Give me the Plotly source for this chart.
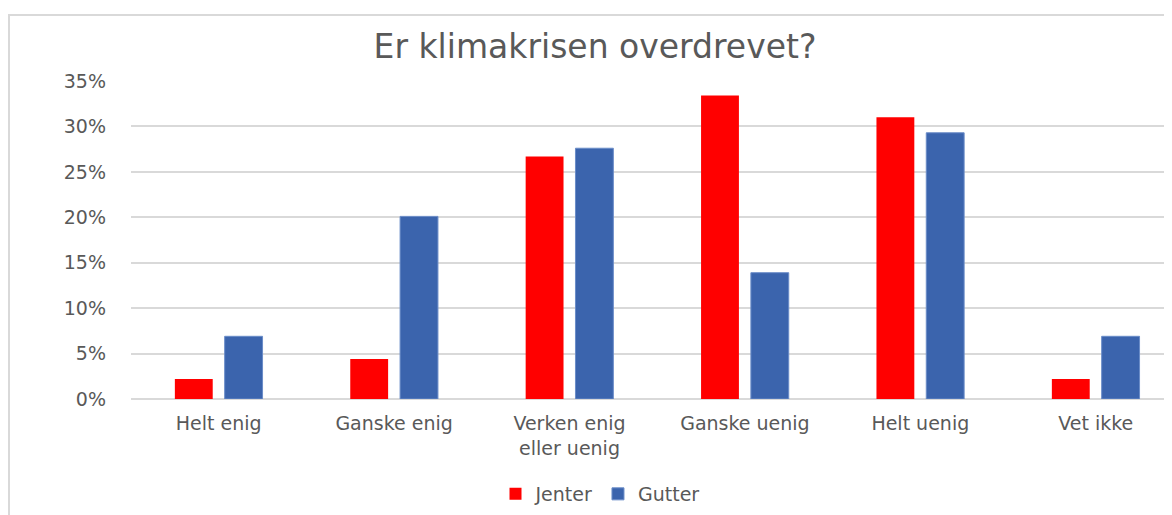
import plotly.graph_objects as go

categories = ["Helt enig", "Ganske enig", "Verken enig<br>eller uenig", "Ganske uenig", "Helt uenig", "Vet ikke"]
jenter = [2.2, 4.4, 26.7, 33.4, 31.0, 2.2]
gutter = [6.9, 20.1, 27.6, 13.9, 29.3, 6.9]
series_names = ["Jenter", "Gutter"]
y_ticks = [0, 5, 10, 15, 20, 25, 30, 35]
y_tick_labels = [f"{v}%" for v in y_ticks]

RED = "#FF0000"
BLUE = "#3B64AD"
GRAY = "#595959"
GRID = "#D9D9D9"
FONT = "DejaVu Sans"

OFF = 8  # page body margin
W, H = 1172 - OFF, 515 - OFF
L, R, T, B = 131 - OFF, 0, 81 - OFF, 515 - 399
plot_w = W - L - R
plot_h = H - T - B

def sx(px):  # screen x -> figure x
    return px - OFF

def sy(py):
    return py - OFF

fig = go.Figure()
fig.add_trace(go.Bar(x=categories, y=jenter, name=series_names[0],
                     marker=dict(color=RED, line=dict(width=0))))
fig.add_trace(go.Bar(x=categories, y=gutter, name=series_names[1],
                     marker=dict(color=BLUE, line=dict(color="#6A8CC8", width=1))))

# chart border (light gray frame), partially cut like the reference
bx0 = (sx(9) - L) / plot_w
by1 = (T + plot_h - sy(15)) / plot_h
fig.add_shape(type="rect", xref="paper", yref="paper",
              x0=bx0, x1=1.2, y0=-0.6, y1=by1,
              line=dict(color="#D9D9D9", width=2), fillcolor="rgba(0,0,0,0)", layer="below")

fig.update_layout(
    width=W, height=H,
    margin=dict(l=L, r=R, t=T, b=B, pad=0),
    paper_bgcolor="white", plot_bgcolor="white",
    barmode="group", bargap=0.432, bargroupgap=0.24,
    title=dict(text="Er klimakrisen overdrevet?", xref="container", x=sx(595) / W, xanchor="center",
               yref="container", y=1 - sy(46) / H, yanchor="middle",
               font=dict(family=FONT, size=33, color=GRAY)),
    legend=dict(orientation="h", xanchor="center", x=(sx(600) - L) / plot_w,
                yanchor="middle", y=(T + plot_h - sy(494)) / plot_h,
                font=dict(family=FONT, size=19, color=GRAY),
                itemwidth=30, traceorder="normal"),
    font=dict(family=FONT, color=GRAY),
)
fig.update_xaxes(range=[-0.5, 5.435], showgrid=False, zeroline=False,
                 showline=False, ticks="", tickfont=dict(family=FONT, size=19, color=GRAY),
                 ticklabelstandoff=11)
fig.update_yaxes(range=[0, 35], tickvals=y_ticks, ticktext=y_tick_labels,
                 showgrid=True, gridcolor=GRID, gridwidth=2, zeroline=True, zerolinecolor=GRID,
                 zerolinewidth=2, showline=False, ticks="",
                 tickfont=dict(family=FONT, size=19, color=GRAY), ticklabelstandoff=24)

fig.write_html("out.html")
